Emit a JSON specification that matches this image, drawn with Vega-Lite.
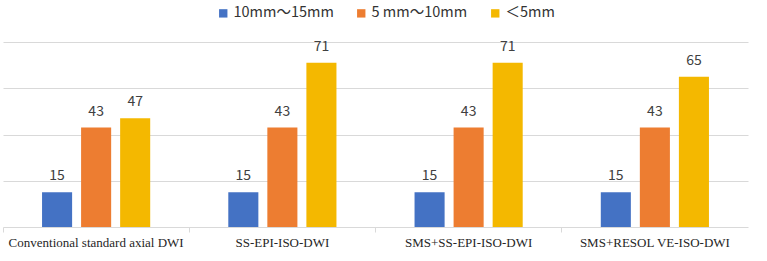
{
  "$schema": "https://vega.github.io/schema/vega-lite/v6.json",
  "width": 745,
  "height": 185,
  "autosize": {"type": "none"},
  "padding": {"left": 3, "top": 42, "right": 19, "bottom": 34},
  "background": "white",
  "config": {"view": {"stroke": null}},
  "data": {
    "values": [
      {"method": "Conventional standard axial DWI", "size": "10mm～15mm", "count": 15},
      {"method": "Conventional standard axial DWI", "size": "5 mm～10mm", "count": 43},
      {"method": "Conventional standard axial DWI", "size": "＜5mm", "count": 47},
      {"method": "SS-EPI-ISO-DWI", "size": "10mm～15mm", "count": 15},
      {"method": "SS-EPI-ISO-DWI", "size": "5 mm～10mm", "count": 43},
      {"method": "SS-EPI-ISO-DWI", "size": "＜5mm", "count": 71},
      {"method": "SMS+SS-EPI-ISO-DWI", "size": "10mm～15mm", "count": 15},
      {"method": "SMS+SS-EPI-ISO-DWI", "size": "5 mm～10mm", "count": 43},
      {"method": "SMS+SS-EPI-ISO-DWI", "size": "＜5mm", "count": 71},
      {"method": "SMS+RESOL VE-ISO-DWI", "size": "10mm～15mm", "count": 15},
      {"method": "SMS+RESOL VE-ISO-DWI", "size": "5 mm～10mm", "count": 43},
      {"method": "SMS+RESOL VE-ISO-DWI", "size": "＜5mm", "count": 65}
    ]
  },
  "encoding": {
    "x": {
      "field": "method",
      "type": "nominal",
      "sort": ["Conventional standard axial DWI", "SS-EPI-ISO-DWI", "SMS+SS-EPI-ISO-DWI", "SMS+RESOL VE-ISO-DWI"],
      "scale": {"paddingInner": 0, "paddingOuter": 0},
      "axis": {
        "title": null,
        "labelAngle": 0,
        "bandPosition": 0,
        "domainColor": "#d9d9d9",
        "domainWidth": 1,
        "tickColor": "#d9d9d9",
        "tickSize": 5,
        "labelFont": "Liberation Serif",
        "labelFontSize": 13,
        "labelColor": "#262626",
        "labelPadding": 4,
        "grid": false
      }
    },
    "xOffset": {
      "field": "size",
      "type": "nominal",
      "sort": ["10mm～15mm", "5 mm～10mm", "＜5mm"],
      "scale": {"paddingInner": 0.23, "paddingOuter": 1}
    },
    "y": {
      "field": "count",
      "type": "quantitative",
      "scale": {"domain": [0, 80], "nice": false},
      "axis": {
        "title": null,
        "values": [20, 40, 60, 80],
        "grid": true,
        "gridColor": "#d9d9d9",
        "gridWidth": 1,
        "domain": false,
        "ticks": false,
        "labels": false
      }
    }
  },
  "layer": [
    {
      "mark": {"type": "bar"},
      "encoding": {
        "color": {
          "field": "size",
          "type": "nominal",
          "sort": ["10mm～15mm", "5 mm～10mm", "＜5mm"],
          "scale": {
            "domain": ["10mm～15mm", "5 mm～10mm", "＜5mm"],
            "range": ["#4472C4", "#ED7D31", "#F4B800"]
          },
          "legend": {
            "title": null,
            "orient": "none",
            "direction": "horizontal",
            "legendX": 213,
            "legendY": -36,
            "symbolType": "square",
            "symbolSize": 70,
            "symbolStrokeWidth": 0,
            "symbolOpacity": 1,
            "labelFont": "Noto Sans CJK SC",
            "labelFontSize": 14.5,
            "labelColor": "#333333",
            "labelOffset": 3,
            "columnPadding": 20
          }
        }
      }
    },
    {
      "mark": {
        "type": "text",
        "baseline": "bottom",
        "dy": -9,
        "font": "Noto Sans CJK SC",
        "fontSize": 14,
        "color": "#404040"
      },
      "encoding": {"text": {"field": "count", "type": "quantitative"}}
    }
  ]
}
